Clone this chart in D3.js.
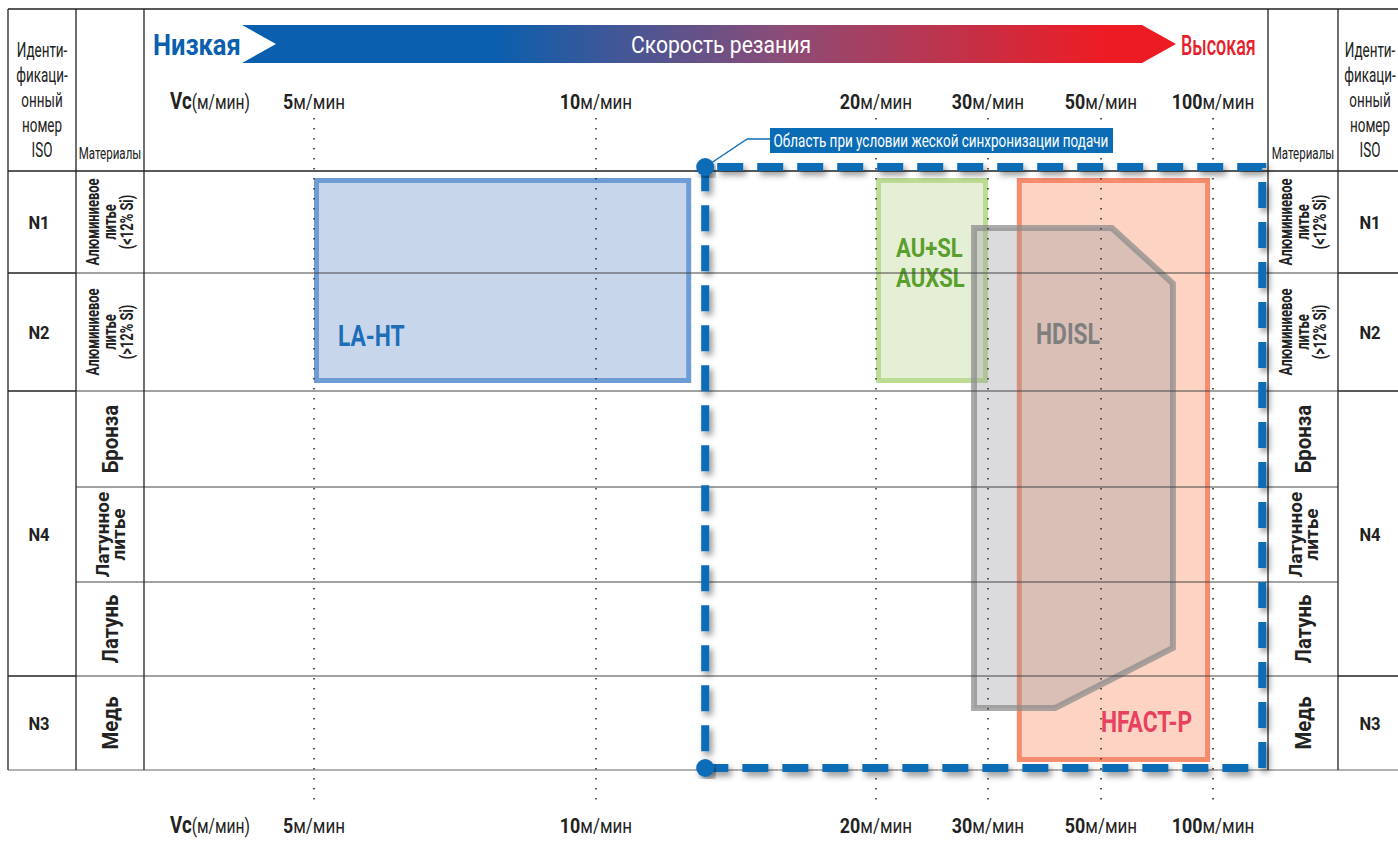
<!DOCTYPE html>
<html>
<head>
<meta charset="utf-8">
<script src="https://cdn.jsdelivr.net/npm/d3@7"></script>
<style>
  body { margin: 0; background: #fff; }
  svg { display: block; }
  text { font-family: Roboto, 'Noto Sans', sans-serif; }
</style>
</head>
<body>
<script>
// cutting speed ticks (m/min)
const speedTicks = [5, 10, 20, 30, 50, 100];

// ISO groups span material rows
const isoGroups = [
	{ code: 'N1', from: 0, to: 1 },
	{ code: 'N2', from: 1, to: 2 },
	{ code: 'N4', from: 2, to: 5 },
	{ code: 'N3', from: 5, to: 6 }
];

const materials = [
	['Алюминиевое', 'литье', '(<12% Si)'],
	['Алюминиевое', 'литье', '(>12% Si)'],
	['Бронза'],
	['Латунное', 'литье'],
	['Латунь'],
	['Медь']
];

const isoHeader = ['Иденти-', 'фикаци-', 'онный', 'номер', 'ISO'];

// rectangular tool ranges: speed from/to, row from/to
const rectTools = [
	{ name: ['LA-HT'], vFrom: 5, vTo: 13.4, rowFrom: 0, rowTo: 2, kind: 'blue' },
	{ name: ['AU+SL', 'AUXSL'], vFrom: 20, vTo: 30, rowFrom: 0, rowTo: 2, kind: 'green' },
	{ name: ['HFACT-P'], vFrom: 35.1, vTo: 98.7, rowFrom: 0, rowTo: 6, kind: 'red' }
];

// HDISL outline as [speed, row position]
const hdislShape = [[28.75, 0.56], [54.9, 0.56], [82.1, 1.09], [82.1, 4.7], [41.9, 5.34], [28.75, 5.34]];

// rigid feed synchronisation region
const syncZone = { vFrom: 13.9, vTo: 122, label: 'Область при условии жеской синхронизации подачи' };

let svg = d3.select('body').append('svg')
	.attr('width', 1398)
	.attr('height', 843);

let defs = svg.append('defs');

let grad = defs.append('linearGradient')
	.attr('id', 'speedGrad')
	.attr('gradientUnits', 'userSpaceOnUse')
	.attr('x1', 242).attr('x2', 1176).attr('y1', 0).attr('y2', 0);
grad.append('stop').attr('offset', '0%').attr('stop-color', '#0a5fae');
grad.append('stop').attr('offset', '27%').attr('stop-color', '#0a5fae');
grad.append('stop').attr('offset', '58%').attr('stop-color', '#8c4c77');
grad.append('stop').attr('offset', '92%').attr('stop-color', '#ed1c24');
grad.append('stop').attr('offset', '100%').attr('stop-color', '#ed1c24');

let shadow = defs.append('filter')
	.attr('id', 'shadow')
	.attr('x', '-10%').attr('y', '-10%').attr('width', '120%').attr('height', '120%');
shadow.append('feDropShadow')
	.attr('dx', 3).attr('dy', 4).attr('stdDeviation', 3)
	.attr('flood-color', '#000').attr('flood-opacity', 0.42);

// condensed text: the reference uses a narrow face, so squeeze horizontally
function cText(parent, x, y, k, rot) {
	return parent.append('text')
		.attr('transform', 'translate(' + x + ',' + y + ')' + (rot ? ' rotate(' + rot + ')' : '') + ' scale(' + k + ',1)');
}

// scales
let x = d3.scaleLinear()
	.domain(speedTicks)
	.range([314, 596, 876, 988, 1101, 1213]);

let y = d3.scaleLinear()
	.domain([0, 1, 2, 3, 4, 5, 6])
	.range([171, 273, 391, 487, 582, 676, 770]);

const tableLeft = 8, col1 = 76, col2 = 144, col3 = 1268, col4 = 1338, tableRight = 1398, tableTop = 9;

//// header arrow ////
svg.append('path')
	.attr('d', 'M242,25 L1142,25 L1176,44 L1142,63 L242,63 L276,44 Z')
	.attr('fill', 'url(#speedGrad)');

cText(svg, 153, 55, 0.85)
	.attr('font-weight', 'bold')
	.attr('font-size', '30px')
	.attr('fill', '#0a5fae')
	.text('Низкая');

cText(svg, 1181, 55, 0.64)
	.attr('font-weight', 500)
	.attr('font-size', '28px')
	.attr('fill', '#e8202a')
	.text('Высокая');

cText(svg, 721, 53, 0.88)
	.attr('text-anchor', 'middle')
	.attr('font-size', '24px')
	.attr('fill', '#fff')
	.text('Скорость резания');

//// tool areas ////
const toolStyle = {
	blue: { fill: '#c8d6ec', stroke: '#6e9dd5', text: '#1d6db7' },
	green: { fill: '#e5efd5', stroke: '#bcdb93', text: '#5a9f2e' },
	red: { fill: '#fdd4c3', stroke: '#f68b6e', text: '#e8415e' }
};
const sw = 5;

let tools = svg.append('g');
tools.selectAll('rect')
	.data(rectTools)
	.enter()
	.append('rect')
	.attr('x', d => x(d.vFrom) + sw / 2)
	.attr('y', d => y(d.rowFrom) + 7 + sw / 2)
	.attr('width', d => x(d.vTo) - x(d.vFrom) - sw)
	.attr('height', d => y(d.rowTo) - y(d.rowFrom) - 15 - sw)
	.attr('fill', d => toolStyle[d.kind].fill)
	.attr('stroke', d => toolStyle[d.kind].stroke)
	.attr('stroke-width', sw);

// HDISL polygon
svg.append('path')
	.attr('d', d3.line().x(d => x(d[0])).y(d => y(d[1]))(hdislShape) + 'Z')
	.attr('fill', '#9a9ca2')
	.attr('fill-opacity', 0.36)
	.attr('stroke', '#8a8a8a')
	.attr('stroke-opacity', 0.72)
	.attr('stroke-width', 6);

// tool labels (baseline positions)
const labelPos = [
	{ text: ['LA-HT'], v: 5, dx: 24, row: 1.62, size: 30, k: 0.76, color: toolStyle.blue.text },
	{ text: ['AU+SL', 'AUXSL'], v: 20, dx: 20, row: 0.84, size: 26, k: 0.85, color: toolStyle.green.text },
	{ text: ['HDISL'], v: 28.75, dx: 62, row: 1.6, size: 30, k: 0.76, color: '#7f7f7f' },
	{ text: ['HFACT-P'], v: 50, dx: 0, row: 5.6, size: 30, k: 0.76, color: toolStyle.red.text }
];
labelPos.forEach(function(l) {
	l.text.forEach(function(s, i) {
		cText(svg, x(l.v) + l.dx, y(l.row) + i * 30.5, l.k)
			.attr('font-weight', 'bold')
			.attr('font-size', l.size + 'px')
			.attr('fill', l.color)
			.text(s);
	});
});

//// table lines ////
let grid = svg.append('g');

// top line
grid.append('line')
	.attr('x1', tableLeft).attr('x2', tableRight)
	.attr('y1', tableTop).attr('y2', tableTop)
	.attr('stroke', '#222').attr('stroke-width', 1.3);

// row lines through materials and chart
d3.range(0, 6).forEach(function(i) {
	grid.append('line')
		.attr('x1', col1).attr('x2', col4)
		.attr('y1', y(i)).attr('y2', y(i))
		.attr('stroke', i == 0 ? '#222' : '#444')
		.attr('stroke-width', i == 0 ? 1.3 : 1);
});
// iso group lines
isoGroups.forEach(function(g) {
	[[tableLeft, col1], [col4, tableRight]].forEach(function(seg) {
		grid.append('line')
			.attr('x1', seg[0]).attr('x2', seg[1])
			.attr('y1', y(g.from)).attr('y2', y(g.from))
			.attr('stroke', '#222').attr('stroke-width', 1.3);
	});
});
// bottom
grid.append('line')
	.attr('x1', tableLeft).attr('x2', tableRight)
	.attr('y1', y(6)).attr('y2', y(6))
	.attr('stroke', '#999').attr('stroke-width', 1.5);

// vertical lines
[tableLeft, col1, col2, col3, col4].forEach(function(cx) {
	grid.append('line')
		.attr('x1', cx).attr('x2', cx)
		.attr('y1', tableTop).attr('y2', y(6))
		.attr('stroke', '#222').attr('stroke-width', 1.3);
});

// dotted speed guides
svg.append('g')
	.selectAll('line')
	.data(speedTicks)
	.enter()
	.append('line')
	.attr('x1', d => x(d)).attr('x2', d => x(d))
	.attr('y1', 118).attr('y2', 806)
	.attr('stroke', '#333')
	.attr('stroke-width', 1.6)
	.attr('stroke-dasharray', '1.6 8.4');

//// speed tick labels (top and bottom) ////
[109, 833].forEach(function(ty) {
	let vc = cText(svg, 210, ty, 0.78)
		.attr('text-anchor', 'middle')
		.attr('fill', '#222');
	vc.append('tspan').attr('font-size', '24px').attr('font-weight', 'bold').text('Vc');
	vc.append('tspan').attr('font-size', '20px').text('(м/мин)');

	speedTicks.forEach(function(d) {
		let t = cText(svg, x(d), ty, 0.85)
			.attr('text-anchor', 'middle')
			.attr('fill', '#222');
		t.append('tspan').attr('font-size', '21px').attr('font-weight', 'bold').text(d);
		t.append('tspan').attr('font-size', '20px').text('м/мин');
	});
});

//// header cells ////
[(tableLeft + col1) / 2, (col4 + tableRight) / 2 + 2].forEach(function(cx) {
	isoHeader.forEach(function(s, i) {
		cText(svg, cx, 57 + i * 25, 0.64)
			.attr('text-anchor', 'middle')
			.attr('font-size', '21px')
			.attr('fill', '#222')
			.text(s);
	});
});
[(col1 + col2) / 2, (col3 + col4) / 2].forEach(function(cx) {
	cText(svg, cx, 159, 0.7)
		.attr('text-anchor', 'middle')
		.attr('font-size', '16.5px')
		.attr('fill', '#222')
		.text('Материалы');
});

// ISO codes
[(tableLeft + col1) / 2 - 3, (col4 + tableRight) / 2 + 2].forEach(function(cx) {
	isoGroups.forEach(function(d) {
		cText(svg, cx, (y(d.from) + y(d.to)) / 2 + 7, 0.92)
			.attr('text-anchor', 'middle')
			.attr('font-weight', 'bold')
			.attr('font-size', '18px')
			.attr('fill', '#222')
			.text(d.code);
	});
});

// materials, rotated
[(col1 + col2) / 2, (col3 + col4) / 2].forEach(function(cx) {
	materials.forEach(function(lines, i) {
		let cy = (y(i) + y(i + 1)) / 2;
		let n = lines.length;
		let fs = n == 3 ? 17.5 : (n == 2 ? 19 : 22);
		let lh = n == 3 ? 17 : 16;
		let k = n == 3 ? 0.74 : (n == 2 ? 1 : 0.93);
		lines.forEach(function(s, j) {
			let off = (j - (n - 1) / 2) * lh + fs * 0.36;
			cText(svg, cx + off, cy, k, -90)
				.attr('text-anchor', 'middle')
				.attr('font-weight', 'bold')
				.attr('font-size', fs + 'px')
				.attr('fill', '#222')
				.text(s);
		});
	});
});

//// sync zone ////
let zx0 = x(syncZone.vFrom), zx1 = x(syncZone.vTo);
let zy0 = y(0) - 4, zy1 = y(6) - 2;
let zoneColor = '#0b6cb6';

svg.append('path')
	.attr('d', 'M' + zx0 + ',' + zy0 + 'L' + zx1 + ',' + zy0 + 'L' + zx1 + ',' + zy1 + 'L' + zx0 + ',' + zy1 + 'Z')
	.attr('fill', 'none')
	.attr('stroke', zoneColor)
	.attr('stroke-width', 8)
	.attr('stroke-dasharray', '26 14')
	.attr('stroke-dashoffset', -12)
	.attr('filter', 'url(#shadow)');

[zy0, zy1].forEach(function(cy) {
	svg.append('circle')
		.attr('cx', zx0).attr('cy', cy).attr('r', 9)
		.attr('fill', zoneColor)
		.attr('filter', 'url(#shadow)');
});

// callout
svg.append('path')
	.attr('d', 'M' + zx0 + ',' + zy0 + 'L' + (zx0 + 42) + ',139 L770,139')
	.attr('fill', 'none')
	.attr('stroke', zoneColor)
	.attr('stroke-width', 1.3);

svg.append('rect')
	.attr('x', 770).attr('y', 128)
	.attr('width', 343).attr('height', 25)
	.attr('fill', zoneColor);

cText(svg, 941, 147, 0.77)
	.attr('text-anchor', 'middle')
	.attr('font-size', '17.5px')
	.attr('fill', '#fff')
	.text(syncZone.label);
</script>
</body>
</html>
